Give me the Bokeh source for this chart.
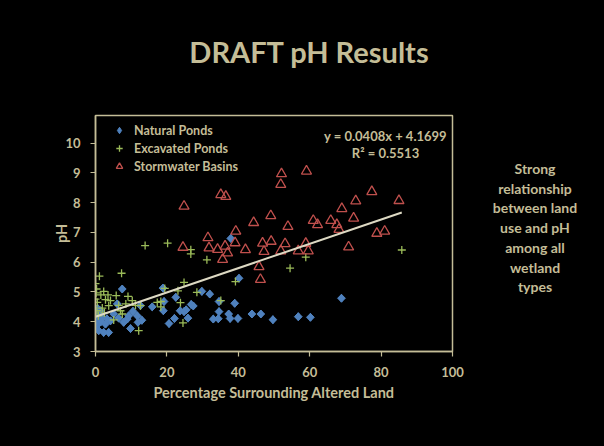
from bokeh.plotting import figure
from bokeh.models import Label, FixedTicker, Legend, LegendItem, Range1d, Div
from bokeh.layouts import column, row
from bokeh.embed import file_html
from bokeh.resources import INLINE
import math

# ---------------- data ----------------
natural_x = [0.0, 0.3, 0.5, 0.2, 0.8, 1.0, 0.6, 1.4, 1.9, 2.8, 2.3, 3.7, 4.2, 5.1,
             6.1, 6.5, 7.5, 7.9, 8.9, 9.3, 9.8, 11.7, 11.9, 12.6, 15.9, 0.0, 1.5,
             3.2, 0.9, 10.5, 13.0,
             18.9, 19.2, 19.0, 20.6, 22.1, 22.5, 23.7, 24.8, 25.4, 25.9, 26.8, 27.4,
             29.8, 32.0, 33.0, 34.4, 34.6, 34.6, 37.3, 37.7, 37.9, 39.0, 39.9, 40.2,
             43.8, 46.3, 49.7, 56.8, 60.2, 68.9]
natural_y = [4.25, 4.05, 3.90, 3.85, 4.15, 4.30, 4.45, 4.37, 4.15, 3.92, 3.64, 3.64,
             4.03, 4.26, 4.60, 4.12, 5.10, 3.98, 4.09, 4.20, 3.77, 4.20, 3.98, 4.54,
             4.50, 3.95, 4.00, 4.10, 3.70, 4.35, 4.05,
             5.13, 4.68, 4.37, 3.94, 4.11, 4.82, 4.37, 4.34, 4.40, 4.12, 4.58, 4.53,
             5.02, 4.93, 4.09, 4.10, 4.68, 4.34, 4.26, 4.11, 6.80, 4.62, 4.11, 5.46,
             4.26, 4.26, 4.07, 4.17, 4.15, 4.79]

excavated_x = [13.9, 20.2, 26.7, 26.7, 31.2, 58.9, 54.5, 85.8, 7.3, 1.1, 0.0, 24.8,
               39.2, 19.4, 23.1, 28.4, 0.2, 2.3, 5.8, 9.1, 0.0, 0.5, 2.8, 4.2, 10.3,
               18.3, 23.8, 35.1, 0.4, 1.9, 3.7, 7.0, 7.5, 5.1, 12.1, 12.6, 17.3, 18.3,
               24.5, 0.3, 1.5, 3.5, 6.5, 8.5, 0.8, 11.2, 2.5]
excavated_y = [6.56, 6.64, 6.42, 6.28, 6.08, 6.17, 5.80, 6.41, 5.63, 5.53, 5.28, 5.32,
               5.35, 5.12, 5.04, 4.99, 4.97, 5.02, 4.88, 4.85, 4.76, 4.65, 4.74, 4.71,
               4.71, 4.68, 4.64, 4.71, 4.37, 4.46, 4.54, 4.37, 4.26, 4.06, 3.70, 4.54,
               4.65, 4.50, 3.96, 5.10, 4.90, 4.90, 4.55, 4.60, 4.20, 4.55, 4.30]

storm_x = [24.8, 35.1, 36.5, 52.1, 51.9, 59.1, 49.1, 44.3, 53.9, 39.3, 31.5, 24.5,
           31.8, 34.2, 36.3, 37.0, 39.1, 35.6, 42.0, 46.8, 49.2, 47.2, 51.9, 53.1,
           45.8, 46.2, 56.8, 58.9, 59.6, 61.0, 62.2, 65.9, 67.6, 68.2, 69.0, 72.9,
           72.3, 77.4, 78.8, 81.0, 85.0, 70.9]
storm_y = [7.88, 8.27, 8.21, 8.97, 8.61, 9.06, 7.56, 7.33, 7.20, 7.04, 6.82, 6.50,
           6.48, 6.43, 6.54, 6.31, 6.65, 6.09, 6.42, 6.64, 6.70, 6.36, 6.38, 6.62,
           5.85, 5.42, 6.38, 6.63, 6.38, 7.40, 7.26, 7.40, 7.26, 7.10, 7.80, 8.06,
           7.48, 8.37, 6.97, 7.04, 8.07, 6.51]

series_names = ["Natural Ponds", "Excavated Ponds", "Stormwater Basins"]
slope = 0.0408
intercept = 4.1699
r_squared = 0.5513

x_ticks = [0, 20, 40, 60, 80, 100]
y_ticks = [3, 4, 5, 6, 7, 8, 9, 10]

title_text = "DRAFT pH Results"
x_title = "Percentage Surrounding Altered Land"
y_title = "pH"
side_lines = ["Strong", "relationship", "between land", "use and pH",
              "among all", "wetland", "types"]

# ---------------- styling / layout ----------------
TAN = "#C4BD97"
TREND = "#DDD9C3"
BLUE = "#4F81BD"
GREEN = "#9BBB59"
RED = "#C0504D"
BG = "#000000"
FONT = "Lato"

PAGE_W = 604
TOP_H = 95            # height of the title strip
FIG_W, FIG_H = 472, 351
FL, FT, FB, FR = 95, 20, 95, 20   # figure borders (left, top, bottom, right)
SIDE_W = PAGE_W - FIG_W

p = figure(width=FIG_W, height=FIG_H, output_backend="svg", toolbar_location=None,
           x_range=Range1d(0, 100), y_range=Range1d(3, 10.93),
           min_border_left=FL, min_border_right=FR,
           min_border_top=FT, min_border_bottom=FB,
           background_fill_color=BG, border_fill_color=BG,
           margin=(0, 0, 0, 0))

p.grid.visible = False
p.outline_line_color = TAN
p.outline_line_width = 1.5

for ax, ticks, lab in ((p.xaxis, x_ticks, x_title), (p.yaxis, y_ticks, y_title)):
    ax.ticker = FixedTicker(ticks=ticks)
    ax.axis_label = lab
    ax.axis_line_color = TAN
    ax.axis_line_width = 1.5
    ax.major_tick_line_color = TAN
    ax.major_tick_line_width = 1.2
    ax.major_tick_out = 5
    ax.major_tick_in = 0
    ax.minor_tick_line_color = None
    ax.major_label_text_color = TAN
    ax.major_label_text_font = FONT
    ax.major_label_text_font_style = "bold"
    ax.major_label_text_font_size = "13px"
    ax.axis_label_text_color = TAN
    ax.axis_label_text_font = FONT
    ax.axis_label_text_font_style = "bold"
    ax.axis_label_text_font_size = "14.5px"

p.yaxis.major_label_standoff = 10
p.yaxis.axis_label_standoff = -8
p.xaxis.major_label_standoff = 10
p.xaxis.axis_label_standoff = 4

# diamond-shaped key glyph (drawn underneath, hidden by the filled markers on top)
r_nat_key = p.scatter(natural_x, natural_y, marker="diamond", size=8,
                      fill_color=BLUE, line_color=BLUE, line_width=1)
r_nat = p.scatter(natural_x, natural_y, marker="square", size=5.5, angle=math.pi / 4,
                  fill_color=BLUE, line_color=BLUE, line_width=1)
r_exc = p.scatter(excavated_x, excavated_y, marker="cross", size=8,
                  line_color=GREEN, line_width=1.3)
r_sto = p.scatter(storm_x, storm_y, marker="triangle", size=10,
                  fill_color=None, line_color=RED, line_width=1.3)

all_x = natural_x + excavated_x + storm_x
x0, x1 = min(all_x), max(all_x)
p.line([x0, x1], [slope * x0 + intercept, slope * x1 + intercept],
       line_color=TREND, line_width=2)

legend = Legend(items=[LegendItem(label=series_names[0], renderers=[r_nat_key]),
                       LegendItem(label=series_names[1], renderers=[r_exc]),
                       LegendItem(label=series_names[2], renderers=[r_sto])],
                location=(11, 171), background_fill_alpha=0, border_line_alpha=0,
                label_text_color=TAN, label_text_font=FONT,
                label_text_font_style="bold", label_text_font_size="12.5px",
                glyph_width=16, glyph_height=18, label_height=18, spacing=0,
                padding=5, margin=0, label_standoff=7)
p.add_layout(legend)

FRAME_BOTTOM_PAGE = TOP_H + FIG_H - FB   # 351 on the page


def add_frame_text(txt, px, py, size):
    # screen units are measured from the frame's bottom-left corner
    p.add_layout(Label(x=px - FL, y=FRAME_BOTTOM_PAGE - py,
                       x_units="screen", y_units="screen",
                       text=txt, text_color=TAN, text_font=FONT,
                       text_font_style="bold", text_font_size=size,
                       text_align="center", text_baseline="middle"))


add_frame_text("y = %.4fx + %.4f" % (slope, intercept), 385, 135, "13px")
add_frame_text("R\u00b2 = %.4f" % r_squared, 385, 152, "13px")

title_div = Div(
    text=('<div style="margin-left:14px;width:590px;text-align:center;'
          'line-height:104px;font-family:Lato;font-weight:bold;font-size:29px;'
          'color:%s;white-space:nowrap;">%s</div>') % (TAN, title_text),
    width=PAGE_W, height=TOP_H, margin=(0, 0, 0, 0),
    styles={"background-color": BG})

side_div = Div(
    text=('<div style="width:126px;text-align:center;padding-top:64px;'
          'line-height:19.7px;font-family:Lato;font-weight:bold;font-size:14px;'
          'color:%s;white-space:nowrap;">%s</div>') % (TAN, "<br>".join(side_lines)),
    width=SIDE_W, height=FIG_H, margin=(0, 0, 0, 0),
    styles={"background-color": BG})

layout = column(title_div,
                row(p, side_div, spacing=0, margin=(0, 0, 0, 0),
                    styles={"background-color": BG}),
                spacing=0, margin=(0, 0, 0, 0), styles={"background-color": BG})

html = file_html(layout, INLINE)
html = html.replace("</head>",
                    "<style>html, body { background-color: #000000; }</style></head>", 1)
open("out.html", "w").write(html)
